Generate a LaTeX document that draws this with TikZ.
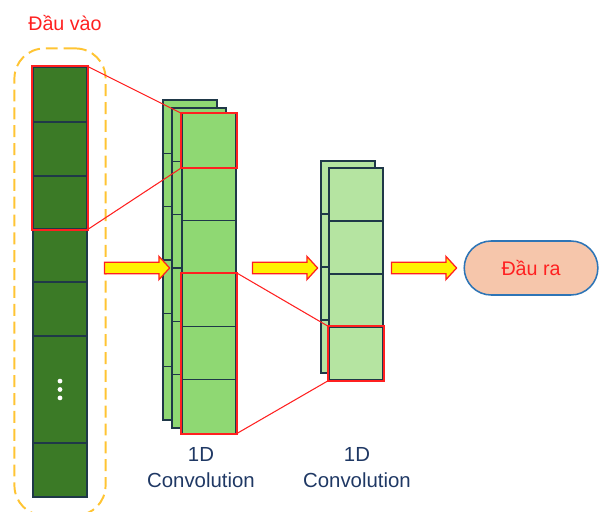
\documentclass[tikz,border=0pt]{standalone}
\usepackage{fontspec}
\setmainfont{Liberation Sans}
\usetikzlibrary{positioning,fit,shapes.arrows,shapes.misc}

\definecolor{ingreen}{RGB}{59,122,38}
\definecolor{convgreen}{RGB}{143,216,115}
\definecolor{lightgreen}{RGB}{181,228,161}
\definecolor{cellline}{RGB}{31,56,72}
\definecolor{gold}{RGB}{255,196,51}
\definecolor{peach}{RGB}{246,198,171}
\definecolor{outblue}{RGB}{46,117,182}
\definecolor{navy}{RGB}{31,56,100}
\definecolor{hotred}{RGB}{255,32,32}

\tikzset{
  cell/.style={draw=cellline, line width=0.8pt, inner sep=0pt, minimum width=1.35cm},
  incell/.style={cell, fill=ingreen},
  convcell/.style={cell, fill=convgreen, minimum height=1.333cm},
  poolcell/.style={cell, fill=lightgreen, minimum height=1.325cm},
  window/.style={draw=hotred, line width=1.4pt},
  zoomline/.style={draw=hotred, line width=0.75pt},
  dashbox/.style={draw=gold, line width=1.4pt, dash pattern=on 8.5pt off 4.2pt,
                  rounded corners=0.75cm, inner sep=0.45cm},
  fatarrow/.style={single arrow, draw=hotred, fill=yellow, line width=0.9pt,
                   inner xsep=0pt, inner ysep=0.125cm,
                   minimum height=1.625cm, single arrow head extend=0.15cm,
                   single arrow tip angle=95},
  outbox/.style={rounded rectangle, draw=outblue, fill=peach, line width=1.1pt,
                 minimum width=3.575cm, minimum height=1.35cm, text=hotred,
                 font=\fontsize{14}{17}\selectfont},
  convlabel/.style={align=center, text=navy, font=\fontsize{14.5}{18.5}\selectfont}
}

\begin{document}
\begin{tikzpicture}[x=0.025cm, y=-0.025cm]

    \useasboundingbox (0,0) rectangle (608,512);

    % Input column
    \foreach \t/\b [count=\i] in {67/122,122/176,176/229,229/282,282/336,336/443,443/497}
        \node[incell, minimum height={(\b-\t)*0.025cm}] (in\i) at (60,{(\t+\b)/2}) {};
    \foreach \d in {-1,0,1}
        \fill[white] ([yshift=\d*0.21cm]in6.center) circle (0.06cm);
    \node[dashbox, fit=(in1)(in7)] (inwrap) {};
    \node[text=hotred, font=\fontsize{14}{17}\selectfont] (intext) at (65,23) {Đầu vào};

    % First 1D convolution (three feature maps)
    \foreach \i in {1,...,6}
        \node[convcell] (ca\i) at (190,{100+(\i-0.5)*53.33}) {};
    \foreach \i in {1,...,6}
        \node[convcell] (cb\i) at (199,{108+(\i-0.5)*53.33}) {};
    \foreach \i in {1,...,6}
        \node[convcell] (cf\i) at (209,{114+(\i-0.5)*53.17}) {};
    \node[convlabel] (conv1) at (201,468) {1D\\Convolution};

    % Second 1D convolution (two feature maps)
    \foreach \i in {1,...,4}
        \node[poolcell] (pa\i) at (348,{161+(\i-0.5)*53}) {};
    \foreach \i in {1,...,4}
        \node[poolcell] (pf\i) at (356,{168+(\i-0.5)*53}) {};
    \node[convlabel] (conv2) at (357,468) {1D\\Convolution};

    % Windows
    \draw[window] (in1.north west) -- (in1.north east) -- (in3.south east)
                  -- (in3.south west) -- cycle;
    \draw[window] (cf1.north west) -- (cf1.north east) -- (cf1.south east)
                  -- (cf1.south west) -- cycle;
    \draw[window] (cf4.north west) -- (cf4.north east) -- (cf6.south east)
                  -- (cf6.south west) -- cycle;
    \draw[window] (pf4.north west) -- (pf4.north east) -- (pf4.south east)
                  -- (pf4.south west) -- cycle;

    % Connect the windows
    \draw[zoomline] (in1.north east) -- (cf1.north west);
    \draw[zoomline] (in3.south east) -- (cf1.south west);
    \draw[zoomline] (cf4.north east) -- (pf4.north west);
    \draw[zoomline] (cf6.south east) -- (pf4.south west);

    % Block arrows and output
    \node[fatarrow] (a1) at (134.5,268) {};
    \node[fatarrow] (a2) at (282.5,268) {};
    \node[fatarrow] (a3) at (421.5,268) {};
    \node[outbox, right=0.15cm of a3] (out) {Đầu ra};

\end{tikzpicture}
\end{document}
